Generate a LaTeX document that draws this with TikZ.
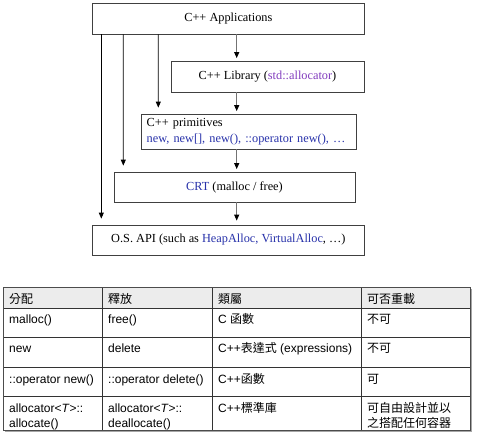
\documentclass[tikz,border=0pt]{standalone}
\usepackage{fontspec}
\setmainfont{Liberation Serif}
\newfontfamily\tabfont{Liberation Sans}
\newfontfamily\cjk{Noto Sans CJK TC}
\usetikzlibrary{arrows.meta,shadows}
\definecolor{alloccol}{RGB}{130,60,190}
\definecolor{primcol}{RGB}{40,50,170}
\definecolor{hdrfill}{RGB}{236,236,236}
\tikzset{
  layerbox/.style={draw=black!75, line width=0.8pt, fill=white, rectangle, inner sep=0pt,
    general shadow={fill=black!45, shadow xshift=1.3pt, shadow yshift=-1.3pt},
    font=\fontsize{12.3}{15.5}\selectfont},
  sidearr/.style={draw=black, line width=0.8pt, -{Triangle[length=6pt,width=5pt]}},
  midarr/.style={draw=black!55, line width=1pt, -{Triangle[length=6pt,width=5pt,fill=black,color=black]}},
  tline/.style={draw=black!80, line width=0.7pt},
  ttext/.style={anchor=base west, inner sep=0pt, font=\tabfont\fontsize{12}{15}\selectfont},
}
\begin{document}
\begin{tikzpicture}[x=1pt,y=-1pt]
\useasboundingbox (0,0) rectangle (479,442);

% ---- layered diagram ----
\node[layerbox, minimum width=271.3pt, minimum height=31pt] (apps) at (228.35,18.5) {C++ Applications};
\node[layerbox, minimum width=193pt, minimum height=31pt] (lib) at (267.5,76.5)
  {C++ Library ({\color{alloccol}std::allocator})};
\node[layerbox, minimum height=35pt, text width=203.6pt, inner xsep=5.7pt, align=left] (prim) at (248.5,131.5)
  {C++ primitives\\{\color{primcol}new, new[], new(), ::operator new(), \ldots}};
\node[layerbox, minimum width=241pt, minimum height=30pt] (crt) at (234.5,187)
  {{\color{primcol}CRT} (malloc / free)};
\node[layerbox, minimum width=271.3pt, minimum height=30pt] (os) at (228.35,240)
  {O.S. API (such as {\color{primcol}HeapAlloc, VirtualAlloc}, \ldots)};

\coordinate (ax) at (236.7,0);
\draw[midarr, shorten >=2.5pt] (apps.south -| ax) -- (lib.north -| ax);
\draw[midarr, shorten >=2.5pt] (lib.south -| ax) -- (prim.north -| ax);
\draw[midarr, shorten >=2.5pt] (prim.south -| ax) -- (crt.north -| ax);
\draw[midarr, shorten >=4pt] (crt.south -| ax) -- (os.north -| ax);

\draw[sidearr] ([xshift=9pt]apps.south west) -- ([xshift=9pt,yshift=6pt]os.north west);
\draw[sidearr] ([xshift=31pt]apps.south west) -- ([xshift=9.7pt,yshift=6pt]crt.north west);
\draw[sidearr] ([xshift=66pt]apps.south west) -- ([xshift=17.7pt,yshift=6pt]prim.north west);

% ---- table ----
\fill[black!35] (5,289) rectangle (472,432);
\fill[white] (3,287) rectangle (470,430);
\fill[hdrfill] (3,287) rectangle (470,308);
\draw[tline] (3,308) -- (470,308);
\draw[tline] (3,337) -- (470,337);
\draw[tline] (3,367) -- (470,367);
\draw[tline] (3,396) -- (470,396);
\draw[tline] (102,287) -- (102,430);
\draw[tline] (212,287) -- (212,430);
\draw[tline] (361,287) -- (361,430);
\draw[draw=black!70, line width=1pt] (3,287) rectangle (470,430);

% header
\node[ttext] (h1) at (9,303.5) {\cjk 分配};
\node[ttext] (h2) at (108,303.5) {\cjk 釋放};
\node[ttext] (h3) at (218,303.5) {\cjk 類屬};
\node[ttext] (h4) at (367,303.5) {\cjk 可否重載};
% row 1
\node[ttext] (r1a) at (9,323.5) {malloc()};
\node[ttext] (r1b) at (108,323.5) {free()};
\node[ttext] (r1c) at (218,323.5) {C {\cjk 函數}};
\node[ttext] (r1d) at (367,323.5) {\cjk 不可};
% row 2
\node[ttext] (r2a) at (9,352.5) {new};
\node[ttext] (r2b) at (108,352.5) {delete};
\node[ttext] (r2c) at (218,352.5) {C++{\cjk 表達式} (expressions)};
\node[ttext] (r2d) at (367,352.5) {\cjk 不可};
% row 3
\node[ttext] (r3a) at (9,383) {::operator new()};
\node[ttext] (r3b) at (108,383) {::operator delete()};
\node[ttext] (r3c) at (218,383) {C++{\cjk 函數}};
\node[ttext] (r3d) at (367,383) {\cjk 可};
% row 4
\node[ttext] (r4a) at (9,412) {allocator<\textit{T}>::};
\node[ttext] (r4a2) at (9,427) {allocate()};
\node[ttext] (r4b) at (108,412) {allocator<\textit{T}>::};
\node[ttext] (r4b2) at (108,427) {deallocate()};
\node[ttext] (r4c) at (218,412) {C++{\cjk 標準庫}};
\node[ttext] (r4d) at (367,412) {\cjk 可自由設計並以};
\node[ttext] (r4d2) at (367,427) {\cjk 之搭配任何容器};
\end{tikzpicture}
\end{document}
